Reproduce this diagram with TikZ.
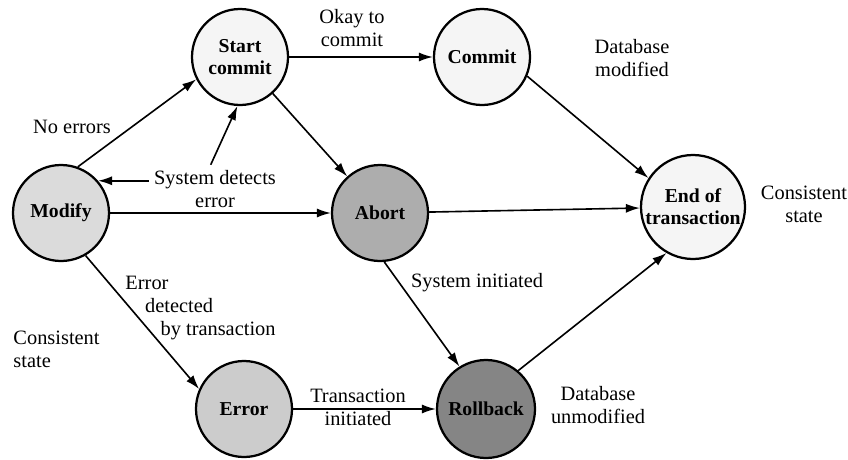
\documentclass[tikz,border=0pt]{standalone}
\usepackage{fontspec}
\setmainfont{Liberation Serif}
\usetikzlibrary{arrows.meta}

\begin{document}
\begin{tikzpicture}[-{Latex[length=10pt,width=6.5pt]},line width=1.15pt,
    every node/.style={font=\fontsize{14.5}{16.5}\selectfont}]
    \tikzstyle{state}=[circle,draw,line width=1.6pt,minimum size=2.4cm,inner sep=0pt,
        align=center,font=\fontsize{14}{15.5}\selectfont\bfseries]
    \tikzstyle{pale state}=[state,fill=black!4]
    \tikzstyle{grey state}=[state,fill=black!14]
    \tikzstyle{dark state}=[state,fill=black!32]
    \tikzstyle{darker state}=[state,fill=black!48]
    \tikzstyle{annot}=[align=center]

    \useasboundingbox (0,0) rectangle (21.2,11.475);

    % Draw the states
    \node[grey state] (modify) at (1.525,6.15) {Modify};
    \node[pale state] (start) at (6.0,10.05) {Start\\commit};
    \node[pale state] (commit) at (12.05,10.05) {Commit};
    \node[dark state] (abort) at (9.5,6.15) {Abort};
    \node[pale state,minimum size=2.6cm] (end) at (17.325,6.3) {End of\\transaction};
    \node[grey state,fill=black!20] (error) at (6.1,1.25) {Error};
    \node[darker state,minimum size=2.45cm] (rollback) at (12.15,1.25) {Rollback};

    % Annotate the transitions
    \node[annot] (okay) at (8.8,10.775) {Okay to\\commit};
    \node[annot] (noerr) at (1.8,8.3) {No errors};
    \node[annot] (sysdet) at (5.375,6.75) {System detects\\error};
    \node[annot] (dbmod) at (15.8,10.025) {Database\\modified};
    \node[annot] (consistr) at (20.1,6.375) {Consistent\\state};
    \node[annot,align=left,anchor=west] (errdet) at (3.0,3.775)
        {Error\\\hspace*{14pt}detected\\\hspace*{25pt}by transaction};
    \node[annot,align=left,anchor=west] (consistl) at (0.2,2.75) {Consistent\\state};
    \node[annot] (sysinit) at (11.925,4.4) {System initiated};
    \node[annot] (trinit) at (8.95,1.3) {Transaction\\initiated};
    \node[annot] (dbunmod) at (14.95,1.35) {Database\\unmodified};

    % Connect the states
    \draw (modify.70) -- (start.207);
    \draw (start) -- (commit);
    \draw (start) -- (abort);
    \draw (commit.-23) -- (end.147);
    \draw (modify) -- (abort);
    \draw (abort) -- (end);
    \draw (modify.-60) -- (error.156);
    \draw (error) -- (rollback);
    \draw (abort.275) -- (rollback.122);
    \draw (rollback.50) -- (end.240);

    % System detected errors
    \draw (modify.41 -| sysdet.west) -- (modify.41);
    \draw (sysdet.100) -- (start.267);
\end{tikzpicture}
\end{document}
